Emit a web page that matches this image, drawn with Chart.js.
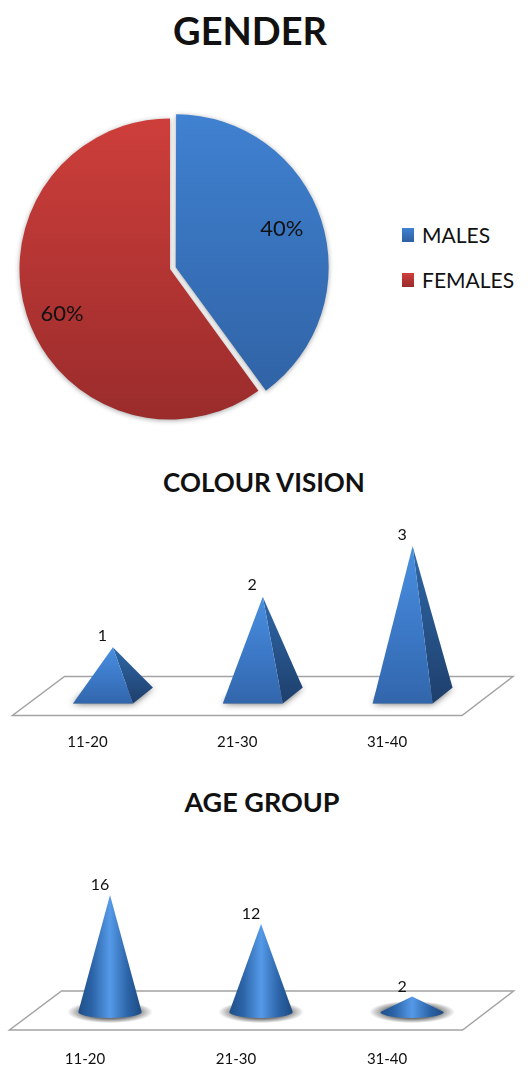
<!DOCTYPE html>
<html>
<head>
<meta charset="utf-8">
<title>Gender, colour vision and age group</title>
<script src="https://cdn.jsdelivr.net/npm/chart.js@4"></script>
<style>
html, body { margin: 0; padding: 0; background: #fff; }
body { position: relative; width: 531px; height: 1079px; overflow: hidden; font-family: Lato, sans-serif; color: #111; }
canvas { position: absolute; }
.heading { position: absolute; margin: 0; transform: translate(-50%, -50%); font-weight: 700; white-space: nowrap; line-height: 1; }
.legend-item { position: absolute; left: 402px; height: 24px; line-height: 24px; font-size: 21px; padding-left: 20px; transform: translateY(-50%); }
.legend-item i { position: absolute; left: 0; top: 5px; width: 12px; height: 14px; }
</style>
</head>
<body>
<h1 class="heading" style="left:250px;top:30px;font-size:38px">GENDER</h1>
<canvas id="genderChart" width="340" height="340" style="left:0;top:100px;width:340px;height:340px"></canvas>
<div id="genderLegend"></div>

<h2 class="heading" style="left:264px;top:482px;font-size:26px">COLOUR VISION</h2>
<canvas id="visionChart" width="531" height="260" style="left:0;top:500px;width:531px;height:260px"></canvas>

<h2 class="heading" style="left:262px;top:801px;font-size:27px">AGE GROUP</h2>
<canvas id="ageChart" width="531" height="249" style="left:0;top:830px;width:531px;height:249px"></canvas>

<script>
const genderLabels = ['MALES', 'FEMALES'];
const genderValues = [40, 60];
const ageBands = ['11-20', '21-30', '31-40'];
const visionValues = [1, 2, 3];
const ageValues = [16, 12, 2];

Chart.defaults.font.family = 'Lato, sans-serif';
Chart.defaults.color = '#111';
Chart.defaults.animation = false;

const genderColors = [['#4082d2', '#2e5fa0'], ['#cf3f3b', '#982b2b']];

// legend is plain html, the title is centred off the pie
genderLabels.forEach(function(label, i) {
    const item = document.createElement('div');
    item.className = 'legend-item';
    item.style.top = (235 + i * 45) + 'px';
    item.innerHTML = '<i style="background:linear-gradient(' + genderColors[i][0] + ',' + genderColors[i][1] + ')"></i>' + label;
    document.getElementById('genderLegend').appendChild(item);
});

function sliceGradient(context) {
    const area = context.chart.chartArea;
    const pair = genderColors[context.dataIndex];
    if (!area) return pair[0];
    const g = context.chart.ctx.createLinearGradient(0, area.top, 0, area.bottom);
    g.addColorStop(0, pair[0]);
    g.addColorStop(1, pair[1]);
    return g;
}

// soft shadow under the slices, percent labels on top
const pieLook = {
    id: 'pieLook',
    beforeDatasetsDraw(chart) {
        chart.ctx.save();
        chart.ctx.shadowColor = 'rgba(0,0,0,0.35)';
        chart.ctx.shadowBlur = 5;
        chart.ctx.shadowOffsetY = 1;
    },
    afterDatasetsDraw(chart) {
        const ctx = chart.ctx;
        ctx.restore();
        ctx.save();
        ctx.font = '22px Lato, sans-serif';
        ctx.fillStyle = '#111';
        ctx.textAlign = 'center';
        ctx.textBaseline = 'middle';
        const nudge = [[6, -6], [-2, 10]];
        chart.getDatasetMeta(0).data.forEach(function(arc, i) {
            const mid = (arc.startAngle + arc.endAngle) / 2;
            ctx.fillText(genderValues[i] + '%',
                arc.x + Math.cos(mid) * arc.outerRadius * 0.74 + nudge[i][0],
                arc.y + Math.sin(mid) * arc.outerRadius * 0.74 + nudge[i][1]);
        });
        ctx.restore();
    }
};

new Chart(document.getElementById('genderChart'), {
    type: 'pie',
    data: {
        labels: genderLabels,
        datasets: [{
            data: genderValues,
            backgroundColor: sliceGradient,
            borderWidth: 0,
            offset: [24, 0]
        }]
    },
    options: {
        responsive: false,
        maintainAspectRatio: false,
        layout: { padding: { left: 7.5, right: 7.5, top: 6.5, bottom: 8.5 } },
        plugins: { legend: { display: false }, tooltip: { enabled: false } }
    },
    plugins: [pieLook]
});

function drawFloor(chart) {
    const ctx = chart.ctx;
    const a = chart.chartArea;
    ctx.save();
    ctx.beginPath();
    ctx.moveTo(a.left, a.bottom);
    ctx.lineTo(a.right, a.bottom);
    ctx.lineTo(a.right + 51, a.bottom - 39);
    ctx.lineTo(a.left + 52, a.bottom - 39);
    ctx.closePath();
    ctx.strokeStyle = '#a3a3a3';
    ctx.lineWidth = 1.5;
    ctx.stroke();
    ctx.restore();
}

function drawValues(chart, values) {
    const ctx = chart.ctx;
    ctx.save();
    ctx.font = '16px Lato, sans-serif';
    ctx.fillStyle = '#111';
    ctx.textAlign = 'center';
    ctx.textBaseline = 'middle';
    chart.getDatasetMeta(0).data.forEach(function(bar, i) {
        ctx.fillText(values[i], bar.x + 15, bar.y - 29);
    });
    ctx.restore();
}

function polygon(ctx, pts) {
    ctx.beginPath();
    pts.forEach(function(p, i) {
        if (i === 0) ctx.moveTo(p[0], p[1]);
        else ctx.lineTo(p[0], p[1]);
    });
    ctx.closePath();
}

const pyramids = {
    id: 'pyramids',
    afterDatasetsDraw(chart) {
        const ctx = chart.ctx;
        const floorY = chart.chartArea.bottom;
        drawFloor(chart);
        chart.getDatasetMeta(0).data.forEach(function(bar) {
            const half = bar.width / 2;
            const apex = [bar.x + 25.5, bar.y - 17.5];
            const fl = [bar.x + 15.5 - half, floorY - 12];
            const fr = [bar.x + 15.5 + half, floorY - 12];
            const br = [fr[0] + 20, floorY - 28];
            const bl = [fl[0] + 20, floorY - 28];

            ctx.save();
            ctx.shadowColor = 'rgba(70,70,70,0.9)';
            ctx.shadowBlur = 7;
            ctx.fillStyle = '#8a8a8a';
            polygon(ctx, [fl, fr, br, bl]);
            ctx.fill();
            ctx.restore();

            let g = ctx.createLinearGradient(0, apex[1], 0, fr[1]);
            g.addColorStop(0, '#2f68a8');
            g.addColorStop(1, '#1e3f6c');
            ctx.fillStyle = g;
            polygon(ctx, [apex, fr, br]);
            ctx.fill();

            g = ctx.createLinearGradient(0, apex[1], 0, fr[1]);
            g.addColorStop(0, '#4a8fe0');
            g.addColorStop(0.55, '#3b78c6');
            g.addColorStop(1, '#3266ab');
            ctx.fillStyle = g;
            polygon(ctx, [apex, fl, fr]);
            ctx.fill();
        });
        drawValues(chart, visionValues);
    }
};

const cones = {
    id: 'cones',
    afterDatasetsDraw(chart) {
        const ctx = chart.ctx;
        const floorY = chart.chartArea.bottom;
        drawFloor(chart);
        chart.getDatasetMeta(0).data.forEach(function(bar) {
            const cx = bar.x + 25;
            const cy = floorY - 18;
            const rx = bar.width / 2;
            const ry = 6;
            const apexY = bar.y - 19;

            // grey halo round the foot
            ctx.save();
            ctx.translate(cx, cy);
            ctx.scale(1, 0.26);
            const halo = ctx.createRadialGradient(0, 0, rx * 0.8, 0, 0, rx * 1.35);
            halo.addColorStop(0, 'rgba(90,90,90,0.85)');
            halo.addColorStop(1, 'rgba(90,90,90,0)');
            ctx.fillStyle = halo;
            ctx.beginPath();
            ctx.arc(0, 0, rx * 1.35, 0, Math.PI * 2);
            ctx.fill();
            ctx.restore();

            const g = ctx.createLinearGradient(cx - rx, 0, cx + rx, 0);
            g.addColorStop(0, '#1e4f88');
            g.addColorStop(0.22, '#2c64a8');
            g.addColorStop(0.5, '#559ae8');
            g.addColorStop(0.78, '#2c64a8');
            g.addColorStop(1, '#1d4a80');
            ctx.fillStyle = g;
            ctx.beginPath();
            ctx.moveTo(cx, apexY);
            ctx.lineTo(cx + rx, cy);
            ctx.ellipse(cx, cy, rx, ry, 0, 0, Math.PI);
            ctx.closePath();
            ctx.fill();
        });
        drawValues(chart, ageValues);
    }
};

function hiddenBars(canvasId, values, maxY, padding, tickPad, look) {
    new Chart(document.getElementById(canvasId), {
        type: 'bar',
        data: {
            labels: ageBands,
            datasets: [{
                data: values,
                backgroundColor: 'rgba(0,0,0,0)',
                categoryPercentage: look.category,
                barPercentage: 1
            }]
        },
        options: {
            responsive: false,
            maintainAspectRatio: false,
            layout: { padding: padding },
            plugins: { legend: { display: false }, tooltip: { enabled: false } },
            scales: {
                x: {
                    grid: { display: false, drawTicks: false },
                    border: { display: false },
                    ticks: { padding: tickPad, maxRotation: 0, font: { size: 15 }, color: '#111' }
                },
                y: { display: false, min: 0, max: maxY }
            }
        },
        plugins: [look.plugin]
    });
}

hiddenBars('visionChart', visionValues, 3.6,
    { left: 12.5, right: 69, top: 33.2, bottom: -9.5 }, 18,
    { category: 0.4, plugin: pyramids });

hiddenBars('ageChart', ageValues, 18,
    { left: 9.5, right: 68.4, top: 69.6, bottom: -9 }, 20,
    { category: 0.42, plugin: cones });
</script>
</body>
</html>
